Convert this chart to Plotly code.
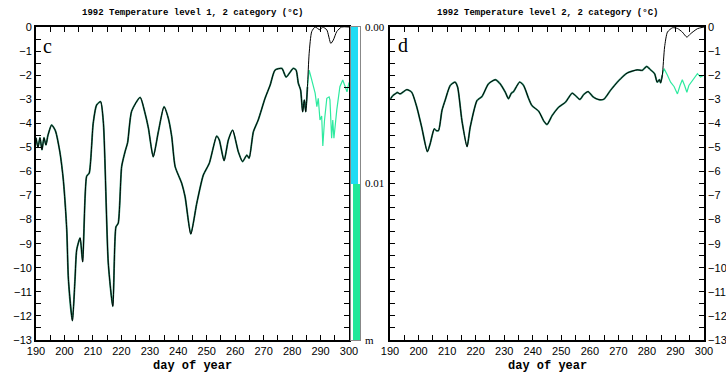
import plotly.graph_objects as go

# ---------------- data ----------------
# Panel c: level 1 — shared part (both categories identical)
c_days_shared = [190, 190.7, 191.4, 192.1, 192.8, 193.5, 194.2, 195.5, 196.8, 198.4, 199.6, 200.8, 201.4, 202.8,
                 203.7, 204.3, 205.5, 206.4, 207.8, 208.7, 210.1, 211.3, 212.7, 213.7, 215.4, 217.0,
                 218.1, 218.9, 220.1, 221.3, 222.2, 223.6, 226.6, 228.3, 229.5, 231.2, 233.0,
                 235.0, 236.5, 237.7, 238.9, 241.2, 242.4, 244.4, 246.5, 248.8, 250.9, 253.5,
                 254.4, 256.1, 257.6, 259.1, 261.1, 262.6, 264.1, 264.9, 266.4, 268.1, 270.5,
                 272.3, 274.0, 276.4, 277.9, 280.4, 281.4, 282.2, 283.0, 283.7, 284.3, 284.8, 285.4]
c_temp_shared = [-4.6, -5.0, -4.6, -5.1, -4.6, -4.9, -4.5, -4.07, -4.3, -5.2, -6.35, -8.4, -10.5, -12.2,
                 -10.5, -9.26, -8.76, -9.75, -6.2, -6.07, -4.0, -3.24, -3.1, -4.0, -9.8, -11.6,
                 -8.3, -8.15, -5.8, -5.18, -4.8, -3.5, -2.92, -3.57, -4.2, -5.39, -4.35,
                 -3.31, -3.79, -4.55, -5.8, -6.49, -7.05, -8.6, -7.32, -6.15, -5.66, -4.53,
                 -4.69, -5.55, -4.69, -4.28, -5.18, -5.59, -5.32, -5.45, -4.35, -3.86, -2.96,
                 -2.41, -1.79, -1.72, -2.08, -1.72, -1.79, -2.34, -2.62, -3.52, -3.03, -3.52, -2.48]
c_days_cat1 = [285.4, 286.0, 286.9, 288.1, 289.8, 290.7, 292.2, 293.6, 294.5, 295.7, 297.4, 300.0]
c_temp_cat1 = [-2.48, -1.09, -0.19, 0.0, -0.12, 0.0, -0.12, -0.68, -0.54, -0.19, 0.0, 0.0]
c_days_cat2 = [285.4, 286.0, 286.9, 288.1, 288.7, 289.2, 289.8, 290.4, 290.8, 291.4, 292.2, 293.0, 293.3,
               293.9, 294.3, 294.7, 295.7, 296.8, 297.8, 298.5, 299.3, 300.0]
c_temp_cat2 = [-2.48, -1.79, -2.2, -2.75, -3.31, -2.96, -3.86, -3.7, -4.94, -3.86, -2.96, -2.9, -3.03,
               -4.62, -3.86, -4.62, -3.45, -2.48, -2.2, -2.41, -2.69, -2.3]

# Panel d: level 2
d_days_shared = [190.2, 191.0, 191.8, 192.6, 193.5, 195.9, 197.6, 199.4, 201.1, 203.1, 204.05, 205.5, 206.2,
                 207.0, 208.2, 209.3, 211.1, 212.8, 213.7, 215.2, 217.0, 218.1, 220.5, 222.2,
                 224.5, 226.9, 228.6, 230.4, 231.5, 232.5, 233.3, 235.4, 236.8, 238.6, 239.7,
                 242.1, 243.8, 245.0, 246.8, 249.1, 251.5, 253.8, 255.0, 256.5, 257.9, 259.4,
                 261.2, 263.2, 264.9, 267.2, 270.2, 273.1, 276.6, 278.4, 279.9, 281.3, 282.7,
                 283.6, 284.4, 284.8, 285.4]
d_temp_shared = [-2.98, -2.85, -2.78, -2.72, -2.78, -2.6, -2.71, -3.33, -4.16, -5.18, -4.86, -4.23, -4.3,
                 -4.3, -3.47, -3.05, -2.43, -2.29, -2.5, -3.89, -4.97, -4.16, -3.05, -2.89,
                 -2.36, -2.19, -2.36, -2.71, -2.98, -2.75, -2.68, -2.29, -2.43, -2.98, -3.26,
                 -3.5, -3.89, -4.05, -3.68, -3.33, -3.12, -2.75, -2.85, -3.01, -2.8, -2.68,
                 -2.91, -3.02, -3.0, -2.64, -2.22, -1.91, -1.78, -1.8, -1.64, -1.78, -1.94,
                 -2.29, -2.19, -2.32, -2.0]
d_days_cat1 = [285.4, 286.2, 287.2, 289.0, 290.7, 292.4, 294.0, 295.3, 297.7, 300.0]
d_temp_cat1 = [-2.0, -0.83, -0.21, -0.03, -0.06, -0.21, -0.42, -0.28, -0.07, 0.0]
d_days_cat2 = [285.4, 286.0, 287.2, 288.3, 289.5, 290.7, 291.6, 292.4, 293.2, 294.0, 294.7, 295.9,
               297.7, 298.8, 300.0]
d_temp_cat2 = [-2.0, -1.73, -2.0, -2.29, -2.47, -2.78, -2.43, -2.19, -2.43, -2.71, -2.43, -2.22,
               -1.94, -2.08, -2.0]

# colour bar (snow depth categories)
cbar_edges = [0.00, 0.01]
cbar_labels = ["0.00", "0.01", "m"]
cbar_colors = ["#22dcf4", "#22e899"]

x_ticks = list(range(190, 301, 5))
x_ticktext = [str(v) if v % 10 == 0 else "" for v in x_ticks]
y_ticks = [-i * 0.5 for i in range(27)]
y_ticktext = [("%d" % v).replace("-", "\u2212") if v == int(v) else "" for v in y_ticks]

BLACK = "#000000"
GREEN = "#2eeaa0"
UNDER = "#2a8a68"
W, H = 726, 375


def px_x(p):
    return p / W


def px_y(p):
    return 1 - p / H


fig = go.Figure()

# ---- panel c ----
fig.add_trace(go.Scatter(x=c_days_shared, y=c_temp_shared, mode="lines",
                         line=dict(color=UNDER, width=1.8, shape="spline", smoothing=0.6),
                         xaxis="x", yaxis="y", showlegend=False))
fig.add_trace(go.Scatter(x=c_days_cat2, y=c_temp_cat2, mode="lines",
                         line=dict(color=GREEN, width=1.2),
                         xaxis="x", yaxis="y", showlegend=False))
fig.add_trace(go.Scatter(x=c_days_shared + c_days_cat1[1:], y=c_temp_shared + c_temp_cat1[1:], mode="lines",
                         line=dict(color=BLACK, width=1.0, shape="spline", smoothing=0.6),
                         xaxis="x", yaxis="y", showlegend=False))

# ---- panel d ----
fig.add_trace(go.Scatter(x=d_days_shared, y=d_temp_shared, mode="lines",
                         line=dict(color=UNDER, width=1.8, shape="spline", smoothing=0.6),
                         xaxis="x2", yaxis="y2", showlegend=False))
fig.add_trace(go.Scatter(x=d_days_cat2, y=d_temp_cat2, mode="lines",
                         line=dict(color=GREEN, width=1.2),
                         xaxis="x2", yaxis="y2", showlegend=False))
fig.add_trace(go.Scatter(x=d_days_shared + d_days_cat1[1:], y=d_temp_shared + d_temp_cat1[1:], mode="lines",
                         line=dict(color=BLACK, width=1.0, shape="spline", smoothing=0.6),
                         xaxis="x2", yaxis="y2", showlegend=False))

# ---- colour bar ----
fig.add_trace(go.Bar(x=[0], y=[6.5], base=[-6.5], marker=dict(color=cbar_colors[0], line=dict(width=0)),
                     width=1, xaxis="x3", yaxis="y3", showlegend=False))
fig.add_trace(go.Bar(x=[0], y=[6.5], base=[-13], marker=dict(color=cbar_colors[1], line=dict(width=0)),
                     width=1, xaxis="x3", yaxis="y3", showlegend=False))

ydom = [px_y(340), px_y(27)]
tickfont = dict(family="Liberation Sans, Arial", size=11, color="black")

common_x = dict(range=[190, 300], tickvals=x_ticks, ticktext=x_ticktext, ticks="inside", ticklen=5,
                tickwidth=1.3, tickcolor="black", showline=True, linewidth=1.8, linecolor="black",
                mirror="ticks", showgrid=False, zeroline=False, tickfont=tickfont, ticklabelstandoff=0,
                automargin=False, tickangle=0)
common_y = dict(range=[-13, 0], tickvals=y_ticks, ticktext=y_ticktext, ticks="inside", ticklen=5,
                tickwidth=1.3, tickcolor="black", showline=True, linewidth=1.8, linecolor="black",
                mirror="ticks", showgrid=False, zeroline=False, tickfont=tickfont, domain=ydom,
                automargin=False)

fig.update_layout(
    width=W, height=H, margin=dict(l=0, r=0, t=0, b=0, pad=0, autoexpand=False),
    paper_bgcolor="white", plot_bgcolor="white",
    xaxis=dict(domain=[px_x(36), px_x(349)], anchor="y", **common_x),
    yaxis=dict(anchor="x", **common_y),
    xaxis2=dict(domain=[px_x(390), px_x(704)], anchor="y2", **common_x),
    yaxis2=dict(anchor="x2", side="right", **common_y),
    xaxis3=dict(domain=[px_x(351), px_x(360)], anchor="y3", range=[-0.5, 0.5], showticklabels=False,
                ticks="", showline=True, linewidth=1.0, linecolor="#888", mirror=True,
                showgrid=False, zeroline=False, automargin=False),
    yaxis3=dict(domain=ydom, anchor="x3", range=[-13, 0], showticklabels=False, ticks="",
                showline=True, linewidth=1.0, linecolor="#888", mirror=True,
                showgrid=False, zeroline=False, automargin=False),
    bargap=0,
)

title_font = dict(family="Liberation Mono, Courier New", size=9, color="black")
label_font = dict(family="Liberation Mono, Courier New", size=12, color="black")


def ann(text, x, y, font, xanchor="center"):
    fig.add_annotation(text=text, x=px_x(x), y=px_y(y), xref="paper", yref="paper", showarrow=False,
                       xanchor=xanchor, yanchor="middle", font=font)


ann("<b>1992 Temperature level 1, 2 category (\u00b0C)</b>", 192.5, 13, title_font)
ann("<b>1992 Temperature level 2, 2 category (\u00b0C)</b>", 547, 13, title_font)
ann("<b>day of year</b>", 192.5, 366, label_font)
ann("<b>day of year</b>", 547, 366, label_font)
letter_font = dict(family="Liberation Serif, Times New Roman", size=20, color="black")
ann("c", 41, 46, letter_font, "left")
ann("d", 396, 45, letter_font, "left")

cb_font = dict(family="Liberation Serif, Times New Roman", size=11, color="black")
cb_pos = [0, -6.5, -13]
for lab, yv in zip(cbar_labels, cb_pos):
    fig.add_annotation(text=lab, x=1.0, y=yv, xref="x3 domain", yref="y3", showarrow=False,
                       xanchor="left", yanchor="middle", xshift=3, font=cb_font)

fig.write_html("out.html")
